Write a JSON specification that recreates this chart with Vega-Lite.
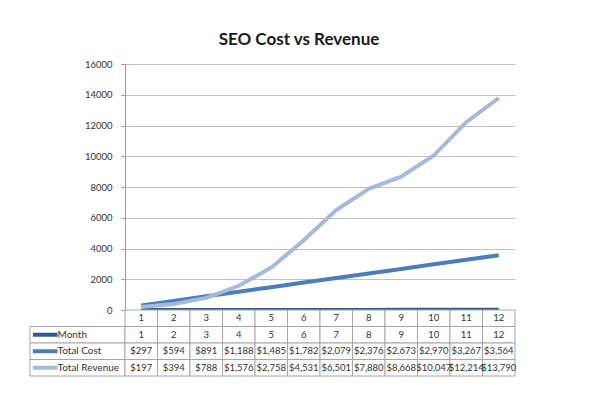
{
  "$schema": "https://vega.github.io/schema/vega-lite/v6.json",
  "background": "white",
  "padding": {"left": 29, "top": 31, "right": 86, "bottom": 26},
  "config": {
    "view": {"stroke": null},
    "font": "Lato",
    "concat": {"spacing": 0}
  },
  "datasets": {
    "rows": [
      {"month": 1, "series": "Month", "value": 1},
      {"month": 2, "series": "Month", "value": 2},
      {"month": 3, "series": "Month", "value": 3},
      {"month": 4, "series": "Month", "value": 4},
      {"month": 5, "series": "Month", "value": 5},
      {"month": 6, "series": "Month", "value": 6},
      {"month": 7, "series": "Month", "value": 7},
      {"month": 8, "series": "Month", "value": 8},
      {"month": 9, "series": "Month", "value": 9},
      {"month": 10, "series": "Month", "value": 10},
      {"month": 11, "series": "Month", "value": 11},
      {"month": 12, "series": "Month", "value": 12},
      {"month": 1, "series": "Total Cost", "value": 297},
      {"month": 2, "series": "Total Cost", "value": 594},
      {"month": 3, "series": "Total Cost", "value": 891},
      {"month": 4, "series": "Total Cost", "value": 1188},
      {"month": 5, "series": "Total Cost", "value": 1485},
      {"month": 6, "series": "Total Cost", "value": 1782},
      {"month": 7, "series": "Total Cost", "value": 2079},
      {"month": 8, "series": "Total Cost", "value": 2376},
      {"month": 9, "series": "Total Cost", "value": 2673},
      {"month": 10, "series": "Total Cost", "value": 2970},
      {"month": 11, "series": "Total Cost", "value": 3267},
      {"month": 12, "series": "Total Cost", "value": 3564},
      {"month": 1, "series": "Total Revenue", "value": 197},
      {"month": 2, "series": "Total Revenue", "value": 394},
      {"month": 3, "series": "Total Revenue", "value": 788},
      {"month": 4, "series": "Total Revenue", "value": 1576},
      {"month": 5, "series": "Total Revenue", "value": 2758},
      {"month": 6, "series": "Total Revenue", "value": 4531},
      {"month": 7, "series": "Total Revenue", "value": 6501},
      {"month": 8, "series": "Total Revenue", "value": 7880},
      {"month": 9, "series": "Total Revenue", "value": 8668},
      {"month": 10, "series": "Total Revenue", "value": 10047},
      {"month": 11, "series": "Total Revenue", "value": 12214},
      {"month": 12, "series": "Total Revenue", "value": 13790}
    ]
  },
  "columns": 2,
  "bounds": "flush",
  "spacing": 0,
  "concat": [
    {
      "width": 95,
      "height": 246,
      "data": {"values": []},
      "mark": "point",
      "encoding": {}
    },
    {
      "width": 390,
      "height": 246,
      "title": {
        "text": "SEO Cost vs Revenue",
        "fontSize": 17,
        "fontWeight": "bold",
        "color": "#1a1a1a",
        "anchor": "middle",
        "dx": -21,
        "offset": 10
      },
      "data": {"name": "rows"},
      "mark": {"type": "line", "strokeWidth": 4},
      "encoding": {
        "x": {
          "field": "month",
          "type": "ordinal",
          "scale": {"type": "point", "padding": 0.5},
          "axis": null
        },
        "y": {
          "field": "value",
          "type": "quantitative",
          "scale": {"domain": [0, 16000], "nice": false},
          "axis": {
            "title": null,
            "values": [0, 2000, 4000, 6000, 8000, 10000, 12000, 14000, 16000],
            "format": "d",
            "grid": true,
            "gridColor": "#BFBFBF",
            "gridWidth": 1,
            "domainColor": "#9A9A9A",
            "tickColor": "#9A9A9A",
            "tickSize": 4,
            "labelPadding": 9,
            "labelFontSize": 9.5,
            "labelColor": "#333333"
          }
        },
        "color": {
          "field": "series",
          "type": "nominal",
          "scale": {
            "domain": ["Month", "Total Cost", "Total Revenue"],
            "range": ["#2F5B93", "#4A7EBB", "#A7B9DB"]
          },
          "legend": null
        },
        "order": {"field": "month"}
      }
    },
    {
      "width": 95,
      "height": 66,
      "data": {"name": "rows"},
      "transform": [{"filter": "datum.month == 1"}],
      "encoding": {
        "y": {
          "field": "series",
          "type": "nominal",
          "scale": {
            "domain": ["hdr", "Month", "Total Cost", "Total Revenue"],
            "paddingInner": 0,
            "paddingOuter": 0
          },
          "axis": null
        }
      },
      "layer": [
        {
          "mark": {"type": "rect", "fill": "white", "stroke": "#A6A6A6", "strokeWidth": 1},
          "encoding": {
            "x": {"datum": 0, "type": "quantitative", "scale": {"domain": [0, 1]}, "axis": null},
            "x2": {"datum": 1}
          }
        },
        {
          "mark": {"type": "rule", "strokeWidth": 4},
          "encoding": {
            "x": {"datum": 0.03, "type": "quantitative"},
            "x2": {"datum": 0.29},
            "color": {
              "field": "series",
              "type": "nominal",
              "scale": {
                "domain": ["Month", "Total Cost", "Total Revenue"],
                "range": ["#2F5B93", "#4A7EBB", "#A7B9DB"]
              },
              "legend": null
            }
          }
        },
        {
          "mark": {"type": "text", "align": "left", "baseline": "middle", "fontSize": 10, "color": "#333333"},
          "encoding": {
            "x": {"datum": 0.29, "type": "quantitative"},
            "text": {"field": "series"}
          }
        }
      ]
    },
    {
      "width": 390,
      "height": 66,
      "data": {"name": "rows"},
      "transform": [
        {"calculate": "datum.series === 'Month' ? format(datum.value, 'd') : format(datum.value, '$,d')", "as": "label"}
      ],
      "encoding": {
        "x": {
          "field": "month",
          "type": "ordinal",
          "scale": {"paddingInner": 0, "paddingOuter": 0},
          "axis": null
        }
      },
      "layer": [
        {
          "mark": {"type": "rect", "fill": "white", "stroke": "#A6A6A6", "strokeWidth": 1},
          "encoding": {
            "y": {
              "field": "series",
              "type": "nominal",
              "scale": {
                "domain": ["hdr", "Month", "Total Cost", "Total Revenue"],
                "paddingInner": 0,
                "paddingOuter": 0
              },
              "axis": null
            }
          }
        },
        {
          "transform": [{"filter": "datum.series === 'Month'"}],
          "mark": {"type": "rect", "fill": "white", "stroke": "#A6A6A6", "strokeWidth": 1},
          "encoding": {
            "y": {"datum": "hdr", "type": "nominal"}
          }
        },
        {
          "mark": {"type": "text", "baseline": "middle", "fontSize": 9.5, "color": "#333333"},
          "encoding": {
            "y": {"field": "series", "type": "nominal"},
            "text": {"field": "label"}
          }
        },
        {
          "transform": [{"filter": "datum.series === 'Month'"}],
          "mark": {"type": "text", "baseline": "middle", "fontSize": 9.5, "color": "#333333"},
          "encoding": {
            "y": {"datum": "hdr", "type": "nominal"},
            "text": {"field": "label"}
          }
        }
      ]
    }
  ]
}
